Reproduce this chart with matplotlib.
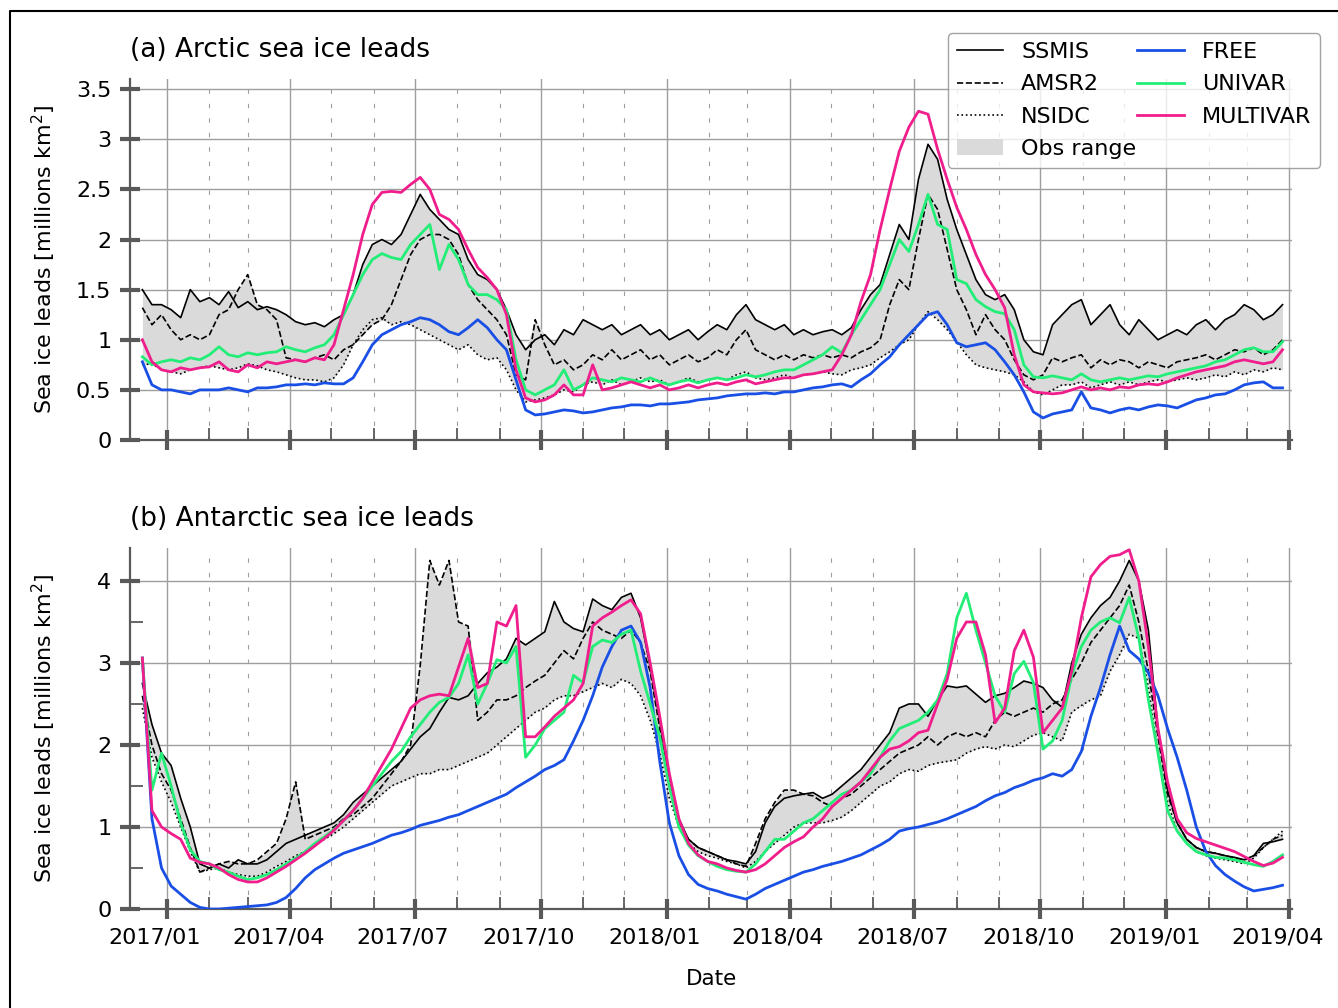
import matplotlib
matplotlib.use("Agg")
import matplotlib.pyplot as plt
import matplotlib.dates as mdates
import matplotlib.transforms as mtransforms
from matplotlib.lines import Line2D
from matplotlib.ticker import MultipleLocator
import numpy as np
import pandas as pd

# weekly samples, 2016-12-14 .. 2019-03-27
dates = pd.date_range("2016-12-14", periods=120, freq="7D")

# ---- Arctic (millions km2) ----
ssmis_a = [1.50, 1.35, 1.35, 1.30, 1.22, 1.50, 1.38, 1.42, 1.35, 1.48,
           1.32, 1.38, 1.30, 1.33, 1.30, 1.25, 1.18, 1.15, 1.17, 1.13,
           1.20, 1.25, 1.45, 1.75, 1.95, 2.00, 1.95, 2.05, 2.25, 2.45,
           2.30, 2.20, 2.10, 2.05, 1.80, 1.65, 1.60, 1.50, 1.30, 1.05,
           0.90, 1.00, 1.05, 0.95, 1.10, 1.05, 1.20, 1.15, 1.10, 1.15,
           1.05, 1.10, 1.15, 1.05, 1.10, 1.00, 1.05, 1.10, 1.00, 1.08,
           1.15, 1.10, 1.25, 1.35, 1.20, 1.15, 1.10, 1.15, 1.05, 1.10,
           1.05, 1.08, 1.10, 1.05, 1.12, 1.30, 1.45, 1.55, 1.85, 2.15,
           2.00, 2.60, 2.95, 2.80, 2.40, 2.10, 1.85, 1.60, 1.45, 1.40,
           1.45, 1.30, 1.00, 0.88, 0.85, 1.15, 1.25, 1.35, 1.40, 1.15,
           1.25, 1.35, 1.15, 1.05, 1.20, 1.10, 1.00, 1.05, 1.10, 1.05,
           1.15, 1.20, 1.10, 1.20, 1.25, 1.35, 1.30, 1.20, 1.25, 1.35]
amsr2_a = [1.32, 1.15, 1.25, 1.10, 1.00, 1.05, 1.00, 1.05, 1.25, 1.30,
           1.50, 1.65, 1.35, 1.30, 1.20, 0.82, 0.80, 0.78, 0.82, 0.85,
           0.80, 0.90, 0.95, 1.05, 1.15, 1.20, 1.35, 1.60, 1.85, 2.00,
           2.05, 2.05, 2.00, 1.85, 1.55, 1.40, 1.30, 1.20, 1.05, 0.65,
           0.60, 1.20, 0.95, 0.75, 0.80, 0.70, 0.75, 0.85, 0.80, 0.90,
           0.80, 0.85, 0.90, 0.80, 0.85, 0.75, 0.80, 0.85, 0.78, 0.82,
           0.90, 0.85, 1.00, 1.10, 0.90, 0.85, 0.80, 0.85, 0.80, 0.85,
           0.82, 0.85, 0.82, 0.85, 0.82, 0.88, 0.92, 1.00, 1.35, 1.60,
           1.50, 2.00, 2.45, 2.30, 1.90, 1.50, 1.30, 1.05, 1.25, 1.10,
           1.00, 0.80, 0.65, 0.60, 0.65, 0.82, 0.78, 0.82, 0.85, 0.72,
           0.80, 0.75, 0.80, 0.78, 0.72, 0.78, 0.75, 0.72, 0.78, 0.80,
           0.82, 0.85, 0.80, 0.85, 0.90, 0.88, 0.92, 0.85, 0.90, 1.00]
nsidc_a = [0.75, 0.76, 0.70, 0.68, 0.66, 0.70, 0.72, 0.74, 0.72, 0.70,
           0.72, 0.76, 0.74, 0.70, 0.68, 0.65, 0.62, 0.60, 0.60, 0.58,
           0.62, 0.75, 0.95, 1.10, 1.20, 1.22, 1.15, 1.18, 1.15, 1.10,
           1.05, 1.00, 0.95, 0.90, 0.95, 0.85, 0.80, 0.82, 0.70, 0.50,
           0.38, 0.40, 0.42, 0.45, 0.50, 0.48, 0.55, 0.58, 0.55, 0.60,
           0.55, 0.58, 0.62, 0.58, 0.60, 0.55, 0.58, 0.62, 0.58, 0.60,
           0.62, 0.60, 0.65, 0.68, 0.62, 0.60, 0.62, 0.65, 0.62, 0.65,
           0.66, 0.68, 0.66, 0.65, 0.70, 0.72, 0.75, 0.82, 0.88, 0.95,
           1.00, 1.15, 1.28, 1.20, 1.10, 0.98, 0.85, 0.75, 0.72, 0.70,
           0.68, 0.65, 0.58, 0.48, 0.45, 0.50, 0.55, 0.55, 0.58, 0.52,
           0.55, 0.58, 0.55, 0.58, 0.55, 0.58, 0.60, 0.58, 0.60, 0.62,
           0.60, 0.62, 0.65, 0.63, 0.68, 0.65, 0.70, 0.68, 0.72, 0.70]
free_a = [0.78, 0.55, 0.50, 0.50, 0.48, 0.46, 0.50, 0.50, 0.50, 0.52,
          0.50, 0.48, 0.52, 0.52, 0.53, 0.55, 0.55, 0.56, 0.55, 0.57,
          0.56, 0.56, 0.62, 0.78, 0.95, 1.05, 1.10, 1.15, 1.18, 1.22,
          1.20, 1.15, 1.08, 1.05, 1.12, 1.20, 1.12, 1.00, 0.90, 0.60,
          0.30, 0.25, 0.26, 0.28, 0.30, 0.29, 0.27, 0.28, 0.30, 0.32,
          0.33, 0.35, 0.35, 0.34, 0.36, 0.36, 0.37, 0.38, 0.40, 0.41,
          0.42, 0.44, 0.45, 0.46, 0.46, 0.47, 0.46, 0.48, 0.48, 0.50,
          0.52, 0.53, 0.55, 0.56, 0.53, 0.60, 0.66, 0.75, 0.83, 0.95,
          1.05, 1.15, 1.25, 1.28, 1.15, 0.97, 0.93, 0.95, 0.97, 0.90,
          0.78, 0.65, 0.48, 0.28, 0.22, 0.26, 0.28, 0.30, 0.48, 0.32,
          0.30, 0.27, 0.30, 0.32, 0.30, 0.33, 0.35, 0.34, 0.32, 0.36,
          0.40, 0.42, 0.45, 0.46, 0.50, 0.55, 0.57, 0.58, 0.52, 0.52]
univar_a = [0.83, 0.75, 0.78, 0.80, 0.78, 0.82, 0.80, 0.85, 0.93, 0.85,
            0.83, 0.87, 0.85, 0.87, 0.88, 0.93, 0.90, 0.88, 0.92, 0.95,
            1.05, 1.25, 1.45, 1.65, 1.80, 1.86, 1.82, 1.80, 1.95, 2.05,
            2.15, 1.70, 1.95, 1.80, 1.55, 1.45, 1.45, 1.40, 1.30, 0.80,
            0.50, 0.45, 0.50, 0.55, 0.70, 0.50, 0.55, 0.62, 0.60, 0.58,
            0.62, 0.60, 0.58, 0.62, 0.58, 0.55, 0.58, 0.60, 0.57, 0.60,
            0.62, 0.60, 0.62, 0.65, 0.63, 0.65, 0.68, 0.70, 0.70, 0.75,
            0.80, 0.85, 0.93, 0.87, 1.05, 1.20, 1.35, 1.50, 1.75, 2.00,
            1.88, 2.15, 2.45, 2.15, 2.10, 1.60, 1.56, 1.40, 1.33, 1.28,
            1.26, 1.10, 0.75, 0.63, 0.62, 0.64, 0.62, 0.60, 0.66, 0.60,
            0.58, 0.60, 0.62, 0.60, 0.62, 0.64, 0.63, 0.66, 0.68, 0.70,
            0.72, 0.74, 0.78, 0.80, 0.85, 0.90, 0.92, 0.88, 0.88, 0.98]
multivar_a = [1.00, 0.78, 0.70, 0.68, 0.72, 0.70, 0.72, 0.73, 0.78, 0.70,
              0.68, 0.75, 0.72, 0.78, 0.76, 0.78, 0.80, 0.78, 0.82, 0.80,
              0.95, 1.30, 1.65, 2.05, 2.35, 2.47, 2.48, 2.47, 2.55, 2.62,
              2.50, 2.25, 2.20, 2.10, 1.90, 1.72, 1.62, 1.50, 1.25, 0.70,
              0.42, 0.38, 0.40, 0.45, 0.55, 0.45, 0.45, 0.75, 0.50, 0.52,
              0.55, 0.58, 0.55, 0.52, 0.55, 0.50, 0.52, 0.55, 0.52, 0.55,
              0.57, 0.55, 0.58, 0.60, 0.56, 0.58, 0.60, 0.62, 0.62, 0.65,
              0.66, 0.68, 0.70, 0.85, 1.05, 1.38, 1.65, 2.10, 2.50, 2.88,
              3.12, 3.28, 3.25, 2.90, 2.60, 2.32, 2.10, 1.85, 1.65, 1.50,
              1.32, 0.85, 0.55, 0.48, 0.47, 0.46, 0.47, 0.50, 0.53, 0.50,
              0.52, 0.50, 0.53, 0.52, 0.55, 0.56, 0.55, 0.58, 0.62, 0.65,
              0.68, 0.70, 0.72, 0.74, 0.78, 0.80, 0.78, 0.76, 0.78, 0.90]

# ---- Antarctic (millions km2) ----
ssmis_b = [2.75, 2.25, 1.90, 1.75, 1.35, 1.00, 0.55, 0.50, 0.55, 0.50,
           0.60, 0.55, 0.55, 0.60, 0.70, 0.80, 0.85, 0.90, 0.95, 1.00,
           1.05, 1.15, 1.30, 1.40, 1.50, 1.60, 1.70, 1.80, 1.95, 2.10,
           2.20, 2.40, 2.58, 2.55, 2.60, 2.75, 2.88, 2.95, 3.05, 3.30,
           3.22, 3.30, 3.38, 3.75, 3.50, 3.42, 3.38, 3.78, 3.70, 3.65,
           3.80, 3.85, 3.55, 2.95, 2.30, 1.55, 1.10, 0.85, 0.75, 0.70,
           0.65, 0.60, 0.58, 0.55, 0.70, 1.05, 1.25, 1.35, 1.38, 1.40,
           1.42, 1.35, 1.40, 1.50, 1.60, 1.70, 1.85, 2.00, 2.15, 2.45,
           2.50, 2.50, 2.35, 2.55, 2.72, 2.70, 2.72, 2.62, 2.52, 2.60,
           2.63, 2.70, 2.78, 2.75, 2.70, 2.55, 2.46, 3.00, 3.35, 3.55,
           3.70, 3.80, 4.00, 4.25, 4.00, 3.40, 2.20, 1.45, 1.05, 0.85,
           0.75, 0.70, 0.68, 0.65, 0.63, 0.60, 0.65, 0.80, 0.82, 0.85]
amsr2_b = [2.60, 2.00, 1.65, 1.45, 1.10, 0.75, 0.45, 0.50, 0.55, 0.58,
           0.55, 0.55, 0.60, 0.70, 0.80, 1.10, 1.55, 0.85, 0.90, 0.95,
           1.00, 1.10, 1.15, 1.25, 1.35, 1.50, 1.65, 1.80, 2.00, 2.97,
           4.25, 3.95, 4.25, 3.50, 3.45, 2.30, 2.40, 2.55, 2.55, 2.60,
           2.70, 2.78, 2.85, 3.00, 3.15, 3.05, 3.30, 3.50, 3.40, 3.35,
           3.30, 3.40, 3.25, 2.90, 2.20, 1.50, 1.05, 0.85, 0.75, 0.70,
           0.65, 0.60, 0.55, 0.52, 0.80, 1.10, 1.30, 1.45, 1.45, 1.40,
           1.38, 1.30, 1.25, 1.35, 1.40, 1.50, 1.60, 1.70, 1.80, 1.90,
           1.95, 2.00, 2.10, 2.00, 2.10, 2.15, 2.10, 2.15, 2.10, 2.30,
           2.40, 2.35, 2.40, 2.45, 2.40, 2.50, 2.55, 2.80, 3.00, 3.25,
           3.40, 3.55, 3.70, 3.95, 3.50, 2.90, 2.10, 1.40, 1.05, 0.85,
           0.75, 0.70, 0.68, 0.65, 0.62, 0.60, 0.65, 0.75, 0.85, 0.90]
nsidc_b = [2.45, 1.85, 1.55, 1.30, 1.00, 0.70, 0.45, 0.48, 0.50, 0.45,
           0.42, 0.40, 0.40, 0.45, 0.52, 0.58, 0.65, 0.70, 0.78, 0.85,
           0.92, 1.00, 1.10, 1.20, 1.30, 1.40, 1.50, 1.55, 1.60, 1.65,
           1.65, 1.70, 1.70, 1.75, 1.80, 1.85, 1.90, 2.00, 2.10, 2.20,
           2.30, 2.40, 2.45, 2.55, 2.60, 2.60, 2.65, 2.70, 2.75, 2.70,
           2.80, 2.75, 2.60, 2.30, 1.90, 1.35, 1.00, 0.80, 0.70, 0.65,
           0.62, 0.58, 0.55, 0.50, 0.58, 0.70, 0.80, 0.90, 1.00, 1.05,
           1.05, 1.05, 1.08, 1.12, 1.20, 1.30, 1.40, 1.50, 1.55, 1.65,
           1.70, 1.68, 1.75, 1.78, 1.80, 1.82, 1.90, 1.95, 1.98, 1.95,
           2.00, 1.98, 2.05, 2.12, 2.15, 2.10, 2.05, 2.40, 2.48, 2.55,
           2.60, 2.90, 3.10, 3.35, 3.30, 2.70, 1.90, 1.30, 0.95, 0.80,
           0.70, 0.65, 0.62, 0.60, 0.58, 0.55, 0.62, 0.75, 0.85, 0.95]
free_b = [3.06, 1.10, 0.50, 0.28, 0.18, 0.08, 0.02, 0.00, 0.00, 0.01,
          0.02, 0.03, 0.04, 0.05, 0.08, 0.14, 0.25, 0.38, 0.48, 0.55,
          0.62, 0.68, 0.72, 0.76, 0.80, 0.85, 0.90, 0.93, 0.97, 1.02,
          1.05, 1.08, 1.12, 1.15, 1.20, 1.25, 1.30, 1.35, 1.40, 1.48,
          1.55, 1.62, 1.70, 1.75, 1.82, 2.05, 2.30, 2.60, 2.95, 3.20,
          3.40, 3.45, 3.25, 2.70, 1.80, 1.05, 0.65, 0.42, 0.30, 0.25,
          0.22, 0.18, 0.15, 0.12, 0.18, 0.25, 0.30, 0.35, 0.40, 0.45,
          0.48, 0.52, 0.55, 0.58, 0.62, 0.66, 0.72, 0.78, 0.85, 0.95,
          0.98, 1.00, 1.03, 1.06, 1.10, 1.15, 1.20, 1.25, 1.32, 1.38,
          1.42, 1.48, 1.52, 1.57, 1.60, 1.65, 1.62, 1.70, 1.92, 2.35,
          2.70, 3.10, 3.45, 3.15, 3.05, 2.88, 2.60, 2.20, 1.85, 1.45,
          1.00, 0.70, 0.53, 0.42, 0.34, 0.27, 0.22, 0.24, 0.26, 0.29]
univar_b = [3.06, 1.45, 1.90, 1.50, 1.05, 0.72, 0.58, 0.55, 0.48, 0.45,
            0.40, 0.36, 0.38, 0.42, 0.48, 0.55, 0.62, 0.70, 0.80, 0.88,
            0.97, 1.08, 1.20, 1.35, 1.50, 1.65, 1.80, 1.92, 2.10, 2.25,
            2.40, 2.52, 2.58, 2.75, 3.10, 2.50, 2.75, 3.04, 3.00, 3.20,
            1.85, 2.00, 2.20, 2.30, 2.40, 2.85, 2.76, 3.20, 3.28, 3.25,
            3.35, 3.40, 2.90, 2.50, 2.10, 1.50, 1.00, 0.78, 0.65, 0.58,
            0.52, 0.48, 0.46, 0.45, 0.55, 0.70, 0.85, 0.85, 0.95, 1.05,
            1.10, 1.20, 1.30, 1.40, 1.45, 1.55, 1.65, 1.85, 2.05, 2.20,
            2.25, 2.30, 2.40, 2.55, 2.87, 3.55, 3.85, 3.40, 3.00, 2.60,
            2.40, 2.87, 3.02, 2.76, 1.95, 2.05, 2.30, 2.85, 3.20, 3.40,
            3.50, 3.55, 3.49, 3.80, 3.30, 2.55, 1.90, 1.20, 0.95, 0.80,
            0.70, 0.66, 0.63, 0.62, 0.60, 0.57, 0.54, 0.52, 0.58, 0.66]
multivar_b = [3.06, 1.20, 1.00, 0.92, 0.85, 0.62, 0.57, 0.55, 0.50, 0.42,
              0.36, 0.33, 0.33, 0.38, 0.45, 0.52, 0.60, 0.68, 0.77, 0.86,
              0.96, 1.08, 1.20, 1.35, 1.55, 1.75, 1.95, 2.20, 2.45, 2.55,
              2.60, 2.62, 2.60, 2.95, 3.30, 2.70, 2.75, 3.50, 3.45, 3.70,
              2.10, 2.10, 2.22, 2.35, 2.45, 2.55, 2.75, 3.45, 3.55, 3.62,
              3.70, 3.77, 3.60, 3.00, 2.35, 1.65, 1.10, 0.80, 0.66, 0.58,
              0.55, 0.50, 0.47, 0.45, 0.48, 0.55, 0.65, 0.75, 0.82, 0.88,
              1.00, 1.10, 1.25, 1.35, 1.45, 1.55, 1.70, 1.85, 1.95, 1.98,
              2.05, 2.15, 2.18, 2.50, 2.80, 3.30, 3.50, 3.50, 3.10, 2.27,
              2.45, 3.15, 3.40, 3.07, 2.15, 2.30, 2.45, 2.90, 3.55, 4.05,
              4.20, 4.30, 4.32, 4.38, 4.00, 3.20, 2.20, 1.55, 1.10, 0.93,
              0.86, 0.82, 0.78, 0.74, 0.70, 0.64, 0.58, 0.53, 0.56, 0.63]

panels = [
    ("(a) Arctic sea ice leads", ssmis_a, amsr2_a, nsidc_a, free_a, univar_a, multivar_a, 3.6),
    ("(b) Antarctic sea ice leads", ssmis_b, amsr2_b, nsidc_b, free_b, univar_b, multivar_b, 4.4),
]

c_free = "#1a4fe6"
c_univar = "#22ee77"
c_multi = "#f01e8c"
spine_c = "0.35"

fig = plt.figure(figsize=(13.38, 10.08), dpi=100)
ax_a = fig.add_axes([0.0972, 0.5635, 0.8685, 0.358])
ax_b = fig.add_axes([0.0972, 0.0982, 0.8685, 0.358])

for ax, (title, ssmis, amsr2, nsidc, free, univar, multi, ytop) in zip([ax_a, ax_b], panels):
    obs = np.vstack([ssmis, amsr2, nsidc])
    ax.fill_between(dates, obs.min(axis=0), obs.max(axis=0), color="#dadada",
                    lw=0, label="Obs range", zorder=1)
    ax.plot(dates, ssmis, color="k", lw=1.2, label="SSMIS", zorder=3)
    ax.plot(dates, amsr2, color="k", lw=1.2, ls="--", label="AMSR2", zorder=3)
    ax.plot(dates, nsidc, color="k", lw=1.2, ls=":", label="NSIDC", zorder=3)
    ax.plot(dates, free, color=c_free, lw=2.0, label="FREE", zorder=4)
    ax.plot(dates, univar, color=c_univar, lw=2.0, label="UNIVAR", zorder=4)
    ax.plot(dates, multi, color=c_multi, lw=2.0, label="MULTIVAR", zorder=5)

    ax.set_xlim(pd.Timestamp("2016-12-05"), pd.Timestamp("2019-04-03"))
    ax.set_ylim(0, ytop)
    ax.xaxis.set_major_locator(mdates.MonthLocator(bymonth=[1, 4, 7, 10]))
    ax.xaxis.set_minor_locator(mdates.MonthLocator())
    ax.xaxis.set_major_formatter(mdates.DateFormatter("%Y/%m"))

    ax.set_axisbelow(True)
    ax.grid(which="major", color="0.62", lw=1.0)
    ax.grid(which="minor", axis="x", color="0.62", lw=0.8, ls=(0, (4, 9)))

    for s in ["top", "right"]:
        ax.spines[s].set_visible(False)
    for s in ["left", "bottom"]:
        ax.spines[s].set_color(spine_c)
        ax.spines[s].set_linewidth(1.6)

    ax.tick_params(which="major", direction="inout", length=15, width=3,
                   color=spine_c, labelsize=16, pad=6)
    ax.tick_params(which="minor", direction="in", length=9, width=1.3,
                   color=spine_c)
    ax.set_ylabel("Sea ice leads [millions km$^2$]", fontsize=16)
    ax.yaxis.set_label_coords(-0.062, 0.5)
    ax.set_title(title, loc="left", fontsize=19, pad=16)

ax_a.set_yticks([0, 0.5, 1, 1.5, 2, 2.5, 3, 3.5])
ax_a.set_yticklabels(["0", "0.5", "1", "1.5", "2", "2.5", "3", "3.5"])
ax_a.tick_params(axis="x", labelbottom=False)

ax_b.set_yticks([0, 1, 2, 3, 4])
ax_b.yaxis.set_minor_locator(MultipleLocator(0.5))
ax_b.set_xlabel("Date", fontsize=15.5)
ax_b.xaxis.set_label_coords(0.5, -0.165)

# date labels sit a little left of their ticks
shift = mtransforms.ScaledTranslation(-12 / 100, 0, fig.dpi_scale_trans)
for lbl in ax_b.get_xticklabels():
    lbl.set_transform(lbl.get_transform() + shift)

handles, labels = ax_a.get_legend_handles_labels()
order = ["SSMIS", "AMSR2", "NSIDC", "Obs range", "FREE", "UNIVAR", "MULTIVAR"]
hmap = dict(zip(labels, handles))
ax_a.legend([hmap[k] for k in order], order, ncol=2, loc="upper right",
            bbox_to_anchor=(1.024, 1.127), borderaxespad=0, fontsize=16,
            handlelength=2.1, labelspacing=0.55, columnspacing=0.05,
            edgecolor="0.55")

# outer frame (left and top edges)
fig.add_artist(Line2D([10 / 1338, 10 / 1338, 1.0], [0.0, 1 - 11 / 1008, 1 - 11 / 1008],
                      transform=fig.transFigure, color="black", lw=1.5))

fig.savefig("out.png", dpi=100)
